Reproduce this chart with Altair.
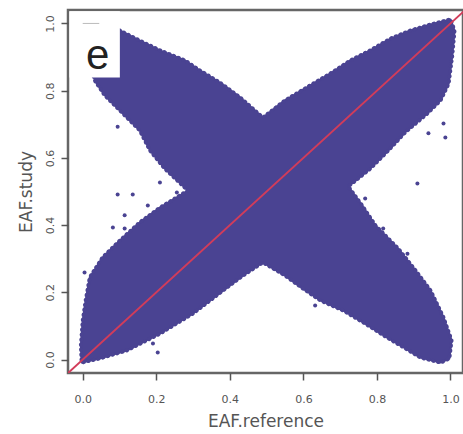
import altair as alt
import pandas as pd

# Outline of the dense EAF cloud (reference allele frequency vs study allele frequency),
# traced clockwise starting at the upper-left arm.
cloud_x = [0.025, 0.101, 0.155, 0.210, 0.278, 0.319, 0.373, 0.428, 0.490, 0.550,
           0.605, 0.673, 0.728, 0.782, 0.837, 0.891, 0.946, 1.000, 1.011, 1.005,
           0.995, 0.973, 0.937, 0.877, 0.831, 0.782, 0.722, 0.760, 0.796, 0.858,
           0.905, 0.946, 0.981, 1.003, 0.997, 0.973, 0.918, 0.864, 0.828, 0.768,
           0.708, 0.646, 0.599, 0.550, 0.490, 0.436, 0.381, 0.300, 0.210, 0.120,
           0.046, -0.003, -0.005, 0.000, 0.008, 0.019, 0.054, 0.101, 0.155, 0.210,
           0.286, 0.223, 0.183, 0.155, 0.101, 0.060, 0.033, 0.014, 0.025]
cloud_y = [1.015, 0.979, 0.949, 0.920, 0.890, 0.860, 0.824, 0.780, 0.720, 0.771,
           0.807, 0.851, 0.890, 0.920, 0.955, 0.979, 0.997, 1.012, 0.979, 0.905,
           0.821, 0.771, 0.732, 0.676, 0.622, 0.568, 0.515, 0.458, 0.399, 0.330,
           0.265, 0.205, 0.125, 0.057, 0.003, -0.009, 0.006, 0.042, 0.065, 0.107,
           0.146, 0.176, 0.211, 0.250, 0.289, 0.250, 0.205, 0.137, 0.077, 0.027,
           0.003, -0.009, 0.042, 0.116, 0.176, 0.244, 0.304, 0.354, 0.408, 0.452,
           0.503, 0.568, 0.622, 0.682, 0.741, 0.786, 0.830, 0.905, 1.015]

# Isolated variants lying outside the dense cloud
stray_x = [0.095, 0.095, 0.136, 0.114, 0.082, 0.114, 0.005, 0.191, 0.204, 0.981,
           0.986, 0.940, 0.910, 0.256, 0.210, 0.768, 0.817, 0.883, 0.632, 0.177]
stray_y = [0.693, 0.491, 0.491, 0.429, 0.393, 0.390, 0.259, 0.048, 0.021, 0.702,
           0.661, 0.673, 0.524, 0.497, 0.527, 0.479, 0.390, 0.315, 0.161, 0.458]

ticks = [0.0, 0.2, 0.4, 0.6, 0.8, 1.0]
panel_label = "e"

BLUE = "#4a4392"
RED = "#d23c5a"

xs = alt.Scale(domain=[-0.04, 1.034], nice=False, zero=False)
ys = alt.Scale(domain=[-0.04, 1.04], nice=False, zero=False)

axis_common = dict(
    values=ticks, format=".1f", grid=False, domain=False,
    tickColor="#555", tickSize=7, tickWidth=1.5,
    labelFont="DejaVu Sans", labelFontSize=11, labelColor="#555",
    titleFont="DejaVu Sans", titleFontSize=17, titleColor="#555",
    titleFontWeight="normal",
)

x_enc = alt.X("x:Q", scale=xs, axis=alt.Axis(title="EAF.reference", labelPadding=13,
                                              titlePadding=9, **axis_common))
y_enc = alt.Y("y:Q", scale=ys, axis=alt.Axis(title="EAF.study", labelAngle=270,
                                              labelAlign="center", labelBaseline="bottom",
                                              labelPadding=6, titlePadding=9,
                                              **axis_common))

cloud_df = pd.DataFrame({"x": cloud_x, "y": cloud_y, "i": list(range(len(cloud_x)))})
cloud = alt.Chart(cloud_df).mark_line(
    fill=BLUE, stroke=BLUE, strokeWidth=2, strokeJoin="round"
).encode(x=x_enc, y=y_enc, order="i:Q")

# Speckled fringe along the cloud boundary
fringe = alt.Chart(cloud_df).mark_line(
    stroke=BLUE, strokeWidth=4, strokeCap="round", strokeDash=[0.5, 4.5]
).encode(x=alt.X("x:Q", scale=xs), y=alt.Y("y:Q", scale=ys), order="i:Q")

stray_df = pd.DataFrame({"x": stray_x, "y": stray_y})
stray = alt.Chart(stray_df).mark_circle(color=BLUE, size=16, opacity=1).encode(
    x=alt.X("x:Q", scale=xs), y=alt.Y("y:Q", scale=ys))

diag_df = pd.DataFrame({"x": [-0.04, 1.04], "y": [-0.04, 1.04]})
diag = alt.Chart(diag_df).mark_line(color=RED, strokeWidth=2, clip=True).encode(
    x=alt.X("x:Q", scale=xs), y=alt.Y("y:Q", scale=ys))

# White panel-label box in the top-left corner, kept inside the frame
box_df = pd.DataFrame({"x": [-0.036], "x2": [0.101], "y": [0.839], "y2": [1.036]})
box = alt.Chart(box_df).mark_rect(color="white").encode(
    x=alt.X("x:Q", scale=xs), x2="x2", y=alt.Y("y:Q", scale=ys), y2="y2")

label_df = pd.DataFrame({"x": [0.041], "y": [0.902], "t": [panel_label]})
label = alt.Chart(label_df).mark_text(
    font="Liberation Sans", fontSize=42, color="#222", align="center", baseline="middle"
).encode(x=alt.X("x:Q", scale=xs), y=alt.Y("y:Q", scale=ys), text="t:N")

dash_df = pd.DataFrame({"x": [0.0], "x2": [0.045], "y": [1.0]})
dash = alt.Chart(dash_df).mark_rule(color="#bbb", strokeWidth=1).encode(
    x=alt.X("x:Q", scale=xs), x2="x2", y=alt.Y("y:Q", scale=ys))

chart = alt.layer(cloud, fringe, stray, diag, box, label, dash).properties(
    width=395, height=363,
    autosize=alt.AutoSizeParams(type="none"),
    padding={"left": 68, "top": 10, "right": 0, "bottom": 61},
    background="white",
).configure_view(stroke="#666", strokeWidth=2.5)

chart.save("out.html", embed_options={"renderer": "svg", "actions": False})
